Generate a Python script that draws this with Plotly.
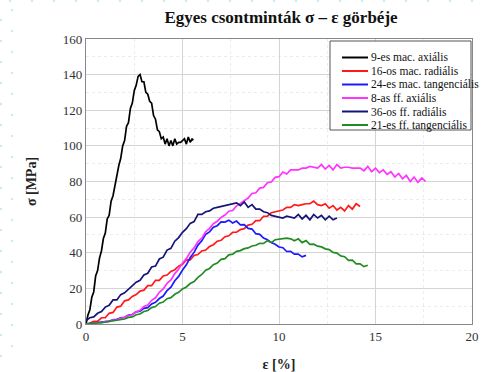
import plotly.graph_objects as go

# ---------------- data ----------------
x_black = [0,0.1,0.2,0.3,0.4,0.5,0.6,0.7,0.8,0.9,1.0,1.1,1.2,1.3,1.4,1.5,1.6,1.7,1.8,1.9,2.0,2.1,2.2,2.3,2.4,2.5,2.6,2.7,2.8,2.9,3.0,3.1,3.2,3.3,3.4,3.5,3.6,3.7,3.8,3.9,4.0,4.1,4.2,4.3,4.4,4.5,4.6,4.7,4.8,4.9,5.0,5.1,5.2,5.3,5.4,5.5,5.55]
y_black = [0,5,8,15,18,27,30,37,41,48,51,59,61,69,72,78,83,89,93,100,103,111,113,121,124,131,134,139,140,136,136,130,129,125,124,117,115,109,108,104,105,101,104,100,103,100,104,101,102,102,103,104,101,105,102,104,103]

x_red = [round(0.2*i, 1) for i in range(72)]
y_red = [0,0.5,1.5,1.5,3.5,3.5,6,6.5,9.5,10,13,13.5,15.5,16.5,18.5,19,21.5,21.5,24.5,24.5,27,27.5,29.5,30.5,32.5,33.5,36,36,38.5,39,41,41.5,43.5,44.5,46.5,47,49,49.5,51.5,51.5,53,53.5,55.5,56,58,58,60.5,60.5,62.5,63,63.5,64,65.5,65.5,67,66.5,67,67.5,67.5,69,67,66.5,67.5,65,66.5,64,65.5,63.5,66.5,64.5,67.5,66]

x_blue = [round(0.2*i, 1) for i in range(58)]
y_blue = [0,0.3,0.3,0.8,0.9,1.5,1.6,2.4,2.6,3.5,3.8,5,5.3,6.8,7.2,8.8,9.2,11.3,12.2,14.3,15.7,18.8,20.7,24.3,26.7,30.3,33.2,37.3,40.2,44.3,46.7,50.3,51.7,54.3,55.2,57.3,57.2,58.3,56.7,57.8,55.7,55.8,53.7,53.3,50.7,50.3,48.2,47.3,45.7,44.8,43.2,42.8,40.7,40.8,39.2,39.3,37.7,38.5]

x_magenta = [round(0.2*i, 1) for i in range(89)]
y_magenta = [0,0.3,0.2,0.6,0.7,1.3,1.4,2.2,2.3,3.2,3.6,4.8,5.2,6.8,7.7,9.8,10.7,13.3,14.7,17.8,19.7,22.8,24.7,28.3,30.7,34.3,36.7,40.3,42.7,46.3,48.2,51.8,53.7,56.3,57.7,59.8,61.2,63.3,63.7,66.3,67.7,69.3,70.7,73.3,73.7,76.3,76.7,79.3,79.7,82.3,82.7,85.3,84.2,86.5,86.5,86.5,87.5,87.5,88.5,88,87.5,89.5,87,89,86.5,89.5,87.5,88,88,87.5,87.5,87.5,86,88.5,85.5,87.5,85,86.5,84,85.5,82.5,84.5,81.5,83.5,80,82.5,79.5,82,80]

x_navy = [round(0.2*i, 1) for i in range(66)]
y_navy = [2,3.5,4,6,7,9.5,10.5,13.5,13.5,16.5,17.5,19.5,21,23.5,24.5,27.5,28.5,32,32.5,36.5,37.5,41.5,42.5,46.5,48.5,51.5,53.5,56.5,57.5,61.5,61.5,63,63.5,65,65.5,66,66.5,67,67.5,68,66.5,68.5,65.5,67,64.5,64.5,63,62.5,61,60.5,60,59.5,60.5,60,59.5,61.5,59,61,58.5,61.5,59.5,61,58.5,60.5,58.5,59.5]

x_green = [round(0.2*i, 1) for i in range(74)]
y_green = [0,0.3,0.3,0.7,0.7,1.1,1.2,1.7,1.9,2.7,2.8,3.7,4,5.2,5.6,7,7.6,9.2,9.8,11.7,12.3,14.2,14.8,16.7,17.8,19.7,20.8,22.7,23.8,26.2,27.8,30.2,31.2,33.3,34.2,36.3,36.7,38.8,39.2,40.8,41.2,42.3,42.7,43.8,44.2,45.3,45.2,46.8,45.7,47.3,47.7,47.8,48.2,47.8,46.7,47.8,45.7,46.8,44.7,44.8,43.7,43.3,42.2,41.8,40.2,39.8,38.2,37.8,35.7,35.8,33.7,33.8,32.2,33]

series_names = ["9-es mac. axiális", "16-os mac. radiális", "24-es mac. tangenciális",
                "8-as ff. axiális", "36-os ff. radiális", "21-es ff. tangenciális"]
series_colors = ["#000000", "#ff1a1a", "#1a1aff", "#ff33ff", "#14147a", "#228b22"]
series_x = [x_black, x_red, x_blue, x_magenta, x_navy, x_green]
series_y = [y_black, y_red, y_blue, y_magenta, y_navy, y_green]

x_ticks = [0, 5, 10, 15, 20]
y_ticks = [0, 20, 40, 60, 80, 100, 120, 140, 160]

# ---------------- figure ----------------
fig = go.Figure()
for name, col, xs, ys in zip(series_names, series_colors, series_x, series_y):
    fig.add_trace(go.Scatter(x=xs, y=ys, mode="lines", name=name,
                             line=dict(color=col, width=1.7), showlegend=False))

serif = "Liberation Serif"

L, R, T, B = 86, 11, 39, 48
W, H = 483 - L - R, 372 - T - B
def px2paper(px, py):
    return (px - L) / W, (372 - B - py) / H

shapes = []
annotations = []
# faint decorative dots of the slide background
dot_pts = [(10 + 22 * i, 1) for i in range(22)]
dot_pts += [(12, 10 + 21 * j) for j in range(17)]
dot_pts += [(1, 20 + 21 * j) for j in range(17)]
for (px, py) in dot_pts:
    x0, y0 = px2paper(px - 1.2, py + 1.2)
    x1, y1 = px2paper(px + 1.2, py - 1.2)
    shapes.append(dict(type="circle", xref="paper", yref="paper",
                       x0=x0, y0=y0, x1=x1, y1=y1,
                       fillcolor="#c8ecef", line=dict(width=0), layer="below"))

# legend box (drawn manually for compact row spacing)
bx0, by0 = px2paper(330, 41)
bx1, by1 = px2paper(471, 130)
shapes.append(dict(type="rect", xref="paper", yref="paper", x0=bx0, y0=by1, x1=bx1, y1=by0,
                   fillcolor="white", line=dict(color="#555", width=1), layer="above"))
for i, (name, col) in enumerate(zip(series_names, series_colors)):
    cy = 57.5 + i * 13.5
    lx0, ly = px2paper(342, cy)
    lx1, _ = px2paper(368, cy)
    shapes.append(dict(type="line", xref="paper", yref="paper", x0=lx0, y0=ly, x1=lx1, y1=ly,
                       line=dict(color=col, width=2), layer="above"))
    tx, _ = px2paper(369, cy)
    annotations.append(dict(text=name, xref="paper", yref="paper", x=tx, y=ly,
                            xanchor="left", yanchor="middle", showarrow=False,
                            font=dict(family=serif, size=11.5, color="#111")))

fig.update_layout(
    width=483, height=372,
    margin=dict(l=L, r=R, t=T, b=B, autoexpand=False),
    paper_bgcolor="white", plot_bgcolor="white",
    title=dict(text="<b>Egyes csontminták σ – ε görbéje</b>",
               font=dict(family=serif, size=17, color="#111"),
               x=(281) / 483, xanchor="center", y=1 - 17 / 372, yanchor="middle"),
    font=dict(family=serif, size=12, color="#333"),
    showlegend=False,
    shapes=shapes,
    annotations=annotations,
)
fig.update_xaxes(range=[0, 20], tickvals=x_ticks, ticktext=[str(v) for v in x_ticks],
                 automargin=False,
                 showgrid=True, gridcolor="#d4d4d4", gridwidth=1,
                 minor=dict(dtick=2.5, showgrid=True, gridcolor="#ececec", griddash="dot"),
                 showline=True, linecolor="#888", linewidth=1.2, mirror=True,
                 zeroline=False, ticks="", tickfont=dict(family=serif, size=13, color="#333"),
                 title=dict(text="<b>ε [%]</b>", font=dict(family=serif, size=14, color="#222"),
                            standoff=17))
fig.update_yaxes(range=[0, 160], tickvals=y_ticks, ticktext=[str(v) for v in y_ticks],
                 automargin=False,
                 showgrid=True, gridcolor="#d4d4d4", gridwidth=1,
                 minor=dict(dtick=10, showgrid=True, gridcolor="#ececec", griddash="dot"),
                 showline=True, linecolor="#888", linewidth=1.2, mirror=True,
                 zeroline=False, ticks="", tickfont=dict(family=serif, size=13, color="#333"),
                 title=dict(text="<b>σ [MPa]</b>", font=dict(family=serif, size=14, color="#222"),
                            standoff=22))

fig.write_html("out.html")
